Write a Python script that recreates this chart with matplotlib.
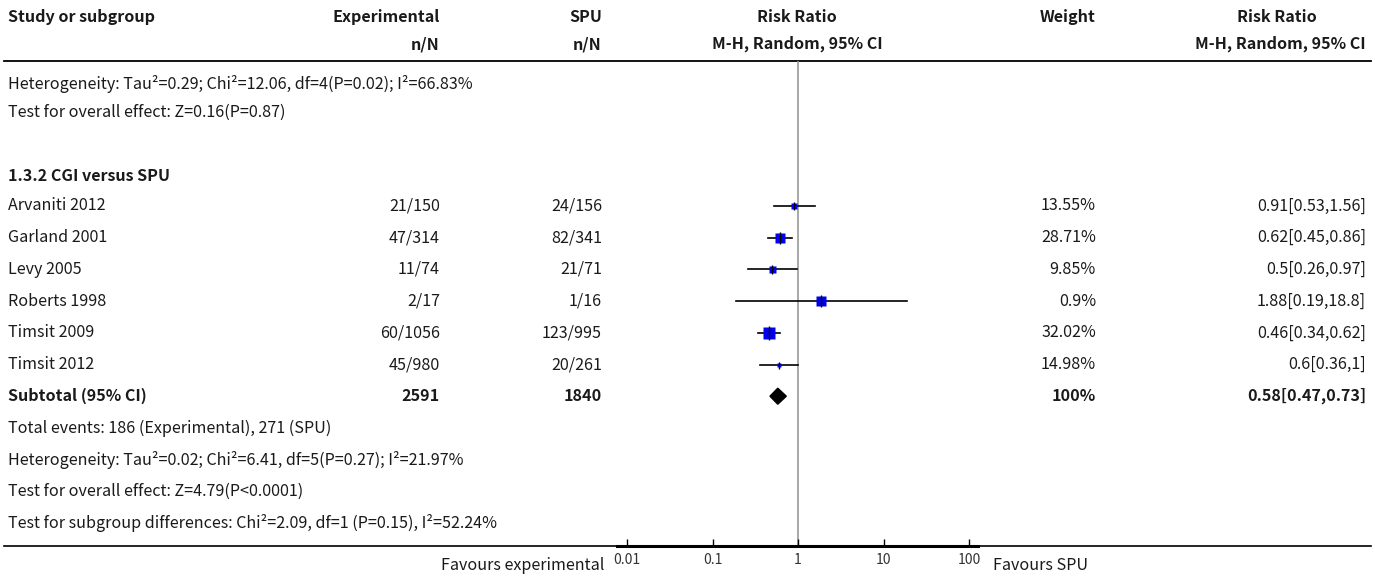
import numpy as np
import matplotlib
matplotlib.use("Agg")
import matplotlib.pyplot as plt
from matplotlib.patches import Polygon

plt.rcParams['font.family'] = ['Noto Sans CJK SC', 'DejaVu Sans']

# Study data (1.3.2 CGI versus SPU)
studies = ["Arvaniti 2012", "Garland 2001", "Levy 2005", "Roberts 1998", "Timsit 2009", "Timsit 2012"]
exp_events = [21, 47, 11, 2, 60, 45]
exp_total = [150, 314, 74, 17, 1056, 980]
ctl_events = [24, 82, 21, 1, 123, 20]
ctl_total = [156, 341, 71, 16, 995, 261]
rr = [0.91, 0.62, 0.5, 1.88, 0.46, 0.6]
rr_low = [0.53, 0.45, 0.26, 0.19, 0.34, 0.36]
rr_high = [1.56, 0.86, 0.97, 18.8, 0.62, 1]
weights = ["13.55%", "28.71%", "9.85%", "0.9%", "32.02%", "14.98%"]

sub_rr, sub_low, sub_high = 0.58, 0.47, 0.73
ticks = [0.01, 0.1, 1, 10, 100]
tick_labels = ["0.01", "0.1", "1", "10", "100"]

# box sizes in pixels for the study squares
box_px = [5.5, 10.5, 7, 9.5, 12, 5]

W, H = 1375, 579
fig = plt.figure(figsize=(W / 100, H / 100), dpi=100)
ax = fig.add_axes([0, 0, 1, 1])
ax.set_xlim(0, W)
ax.set_ylim(H, 0)
ax.axis('off')

fs = 11.6
col_exp, col_ctl, col_w, col_rr = 440, 602, 1096, 1366

def txt(x, y, s, ha='left', bold=False, size=fs, color='#1a1a1a'):
    ax.text(x, y, s, ha=ha, va='center', fontsize=size,
            fontweight='bold' if bold else 'normal', color=color)

# header
txt(8, 17, "Study or subgroup", bold=True)
txt(col_exp, 17, "Experimental", ha='right', bold=True)
txt(col_ctl, 17, "SPU", ha='right', bold=True)
txt(797, 17, "Risk Ratio", ha='center', bold=True)
txt(col_w, 17, "Weight", ha='right', bold=True)
txt(1277, 17, "Risk Ratio", ha='center', bold=True)
txt(col_exp, 44, "n/N", ha='right', bold=True)
txt(col_ctl, 44, "n/N", ha='right', bold=True)
txt(797, 44, "M-H, Random, 95% CI", ha='center', bold=True)
txt(col_rr, 44, "M-H, Random, 95% CI", ha='right', bold=True)
ax.plot([4, W - 4], [60.5, 60.5], color='black', lw=1.3)

# previous subgroup footer
txt(8, 84, "Heterogeneity: Tau²=0.29; Chi²=12.06, df=4(P=0.02); I²=66.83%")
txt(8, 112, "Test for overall effect: Z=0.16(P=0.87)")

txt(8, 176, "1.3.2 CGI versus SPU", bold=True)

row0, step = 206, 31.7
row_y = [row0 + i * step for i in range(len(studies))]
for i, name in enumerate(studies):
    y = row_y[i]
    txt(8, y, name)
    txt(col_exp, y, f"{exp_events[i]}/{exp_total[i]}", ha='right')
    txt(col_ctl, y, f"{ctl_events[i]}/{ctl_total[i]}", ha='right')
    txt(col_w, y, weights[i], ha='right')
    txt(col_rr, y, f"{rr[i]:g}[{rr_low[i]:g},{rr_high[i]:g}]", ha='right')

y_sub = row0 + len(studies) * step
txt(8, y_sub, "Subtotal (95% CI)", bold=True)
txt(col_exp, y_sub, f"{sum(exp_total)}", ha='right', bold=True)
txt(col_ctl, y_sub, f"{sum(ctl_total)}", ha='right', bold=True)
txt(col_w, y_sub, "100%", ha='right', bold=True)
txt(col_rr, y_sub, f"{sub_rr:g}[{sub_low:g},{sub_high:g}]", ha='right', bold=True)

txt(8, y_sub + 32, f"Total events: {sum(exp_events)} (Experimental), {sum(ctl_events)} (SPU)")
txt(8, y_sub + 64, "Heterogeneity: Tau²=0.02; Chi²=6.41, df=5(P=0.27); I²=21.97%")
txt(8, y_sub + 95, "Test for overall effect: Z=4.79(P<0.0001)")
txt(8, y_sub + 127, "Test for subgroup differences: Chi²=2.09, df=1 (P=0.15), I²=52.24%")

# bottom rule and axis captions
y_axis = 546
ax.plot([4, W - 4], [y_axis, y_axis], color='black', lw=1.2)
txt(604, 566, "Favours experimental", ha='right')
txt(993, 566, "Favours SPU")

# forest panel: log scale, 1 at x=798, 85.5 px per decade
x_one, dec = 798, 85.5
px_left, px_right = 617, 978
lo = 10 ** ((px_left - x_one) / dec)
hi = 10 ** ((px_right - x_one) / dec)
fax = fig.add_axes([px_left / W, (H - y_axis) / H, (px_right - px_left) / W, (y_axis - 60.5) / H])
fax.set_xscale('log')
fax.set_xlim(lo, hi)
fax.set_ylim(y_axis, 60.5)
fax.patch.set_alpha(0)
for s in ['top', 'left', 'right']:
    fax.spines[s].set_visible(False)
fax.spines['bottom'].set_linewidth(2.2)
fax.set_yticks([])
fax.set_xticks(ticks)
fax.set_xticklabels(tick_labels, fontsize=10, color='#333333')
fax.minorticks_off()
fax.tick_params(axis='x', direction='in', length=5, width=1, pad=5)

fax.axvline(1, color='#999999', lw=1.2, zorder=1)

for i in range(len(studies)):
    y = row_y[i]
    fax.plot([rr_low[i], rr_high[i]], [y, y], color='black', lw=1.2, zorder=2)
    fax.plot(rr[i], y, marker='s', ms=box_px[i] * 0.72, color='#0000ee',
             mec='none', zorder=3)
    fax.plot(rr[i], y, marker='|', ms=(box_px[i] + 2) * 0.72, color='black',
             mew=1, zorder=4)

fax.add_patch(Polygon([(sub_low, y_sub), (sub_rr, y_sub - 8),
                       (sub_high, y_sub), (sub_rr, y_sub + 8)],
                      closed=True, color='black', zorder=3))

fig.savefig("out.png", dpi=100)
